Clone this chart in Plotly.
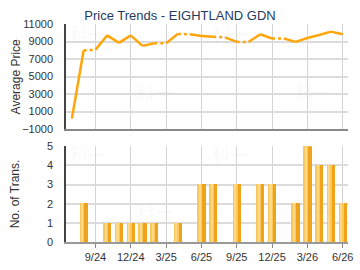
import plotly.graph_objects as go

months = ["7/24", "8/24", "9/24", "10/24", "11/24", "12/24", "1/25", "2/25", "3/25",
          "4/25", "5/25", "6/25", "7/25", "8/25", "9/25", "10/25", "11/25", "12/25",
          "1/26", "2/26", "3/26", "4/26", "5/26", "6/26"]
avg_price = [200, 8000, 8050, 9700, 8850, 9700, 8500, 8800, 8800, 9870, 9830, 9640,
             9530, 9480, 8960, 8950, 9830, 9340, 9350, 8960, 9400, 9750, 10130, 9830]
trans = [0, 2, 0, 1, 1, 1, 1, 1, 0, 1, 0, 3, 3, 0, 3, 0, 3, 3, 0, 2, 5, 4, 4, 2]
tick_labels = ["9/24", "12/24", "3/25", "6/25", "9/25", "12/25", "3/26", "6/26"]

# split line into solid segments and dotted segments (into months without transactions)
sx, sy, dx, dy = [], [], [], []
for i in range(len(months) - 1):
    seg_x = [months[i], months[i + 1], None]
    seg_y = [avg_price[i], avg_price[i + 1], None]
    if trans[i + 1] == 0:
        dx += seg_x; dy += seg_y
    else:
        sx += seg_x; sy += seg_y

LINE = "#FFA50A"
fig = go.Figure()
fig.add_trace(go.Scatter(x=sx, y=sy, mode="lines", line=dict(color=LINE, width=2.5),
                         connectgaps=False, xaxis="x", yaxis="y", hoverinfo="skip"))
fig.add_trace(go.Scatter(x=dx, y=dy, mode="lines", line=dict(color=LINE, width=2.5, dash="dot"),
                         connectgaps=False, xaxis="x", yaxis="y", hoverinfo="skip"))

bx = [m for m, t in zip(months, trans) if t > 0]
by = [t for t in trans if t > 0]
fig.add_trace(go.Bar(x=bx, y=by, width=0.7, offset=-0.35, marker=dict(color="#EFA31A", line=dict(width=0)),
                     xaxis="x2", yaxis="y2"))
fig.add_trace(go.Bar(x=bx, y=by, width=0.42, offset=-0.35, marker=dict(color="#FBC65A", line=dict(width=0)),
                     xaxis="x2", yaxis="y2"))
fig.add_trace(go.Bar(x=bx, y=by, width=0.18, offset=-0.22, marker=dict(color="#FFD98A", line=dict(width=0)),
                     xaxis="x2", yaxis="y2"))

font = "Liberation Sans, Arial, sans-serif"
xcommon = dict(type="category", categoryorder="array", categoryarray=months,
               range=[-0.5, 23.45], tickvals=tick_labels, showgrid=True,
               gridcolor="#D4D4D4", gridwidth=1, zeroline=False, fixedrange=True)
fig.update_layout(
    width=360, height=270,
    margin=dict(l=66, r=7, t=24, b=26),
    paper_bgcolor="white", plot_bgcolor="white",
    showlegend=False, barmode="overlay", bargap=0,
    font=dict(family=font, size=11, color="#333333"),
    title=dict(text="Price Trends - EIGHTLAND GDN", x=0.5, xref="container", xanchor="center",
               y=1 - 15 / 270, yref="container", yanchor="middle",
               font=dict(family=font, size=13, color="#1F3A60")),
    xaxis=dict(**xcommon, domain=[0, 1], anchor="y", showticklabels=False,
               showline=True, linecolor="#888888", linewidth=2, ticks=""),
    yaxis=dict(domain=[0.518, 1], range=[-1000, 11000], tick0=-1000, dtick=2000,
               tickformat="d",
               showgrid=True, gridcolor="#DCDCDC", gridwidth=1.5, zeroline=False,
               showline=True, linecolor="#444444", linewidth=1.5, ticks="",
               ticklabelstandoff=9, anchor="x"),
    xaxis2=dict(**xcommon, domain=[0, 1], anchor="y2", showticklabels=True,
                showline=True, linecolor="#999999", linewidth=2, ticks="outside",
                ticklen=4, tickcolor="#888888"),
    yaxis2=dict(domain=[0, 0.4395], range=[0, 5], dtick=1,
                showgrid=True, gridcolor="#DCDCDC", gridwidth=1.5, zeroline=False,
                showline=True, linecolor="#444444", linewidth=1.5, ticks="",
                ticklabelstandoff=9, anchor="x2"),
)

ann = [
    dict(text="Average Price", x=(15 - 66) / 287, y=(244 - 77) / 220, xref="paper", yref="paper",
         xanchor="center", yanchor="middle",
         textangle=-90, showarrow=False, font=dict(size=12, color="#333333")),
    dict(text="No. of Trans.", x=(15 - 66) / 287, y=(244 - 195) / 220, xref="paper", yref="paper",
         xanchor="center", yanchor="middle",
         textangle=-90, showarrow=False, font=dict(size=12, color="#333333")),
]
for (px, py) in [(88, 33), (157, 93), (233, 33), (317, 93), (88, 155), (157, 213), (233, 155), (317, 213)]:
    ann.append(dict(text="科一", x=(px - 66) / 287, y=(244 - py) / 220, xref="paper", yref="paper",
                    xanchor="center", yanchor="middle",
                    showarrow=False, font=dict(family="Noto Sans CJK SC", size=18, color="rgba(150,150,150,0.07)")))
fig.update_layout(annotations=ann)

fig.write_html("out.html")
